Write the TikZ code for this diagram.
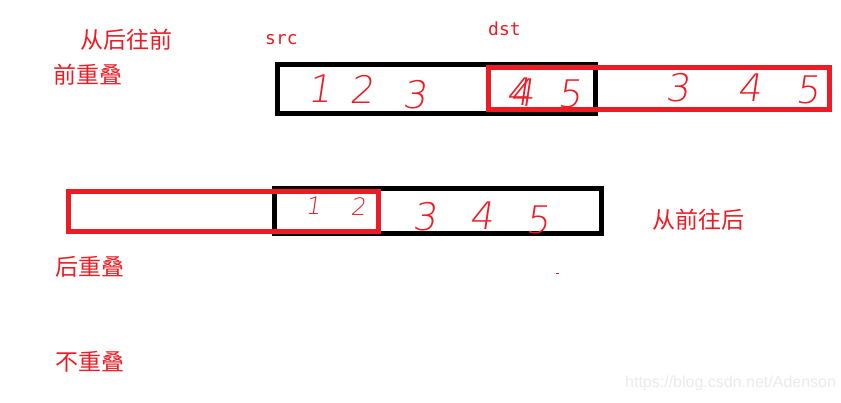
\documentclass[tikz,border=0pt]{standalone}
\usepackage{fontspec}
\newfontfamily\cjk{Noto Sans CJK SC}
\newfontfamily\handfont[FakeSlant=0.15]{DejaVu Sans ExtraLight}
\newfontfamily\monofont{DejaVu Sans Mono}
\newfontfamily\wmfont{Liberation Sans}
\definecolor{paintred}{RGB}{237,28,36}
\begin{document}
\begin{tikzpicture}[x=1pt,y=-1pt,
	hz/.style={text=paintred,font=\cjk\fontsize{23}{23}\selectfont,inner sep=0pt,anchor=west},
	lbl/.style={text=paintred,font=\monofont\fontsize{18}{18}\selectfont,inner sep=0pt,anchor=west},
	num/.style={text=paintred,font=\handfont\fontsize{38}{38}\selectfont,inner sep=0pt},
	small/.style={num,font=\handfont\fontsize{24}{24}\selectfont},
	blackbox/.style={draw=black,line width=4.6pt},
	redbox/.style={draw=paintred,line width=4.8pt}]
	\fill[white] (0,0) rectangle (841,402);
	\useasboundingbox (0,0) rectangle (841,402);
	% labels
	\node[hz] (backfront) at (80,40) {从后往前};
	\node[hz] (frontov) at (53,75) {前重叠};
	\node[hz] (frontback) at (652,220) {从前往后};
	\node[hz] (backov) at (55,267) {后重叠};
	\node[hz] (noov) at (55,362) {不重叠};
	\node[lbl] (src) at (265,40) {src};
	\node[lbl] (dst) at (488,29) {dst};
	% top row: dst after src
	\draw[blackbox] (277.5,64.5) rectangle (595.5,113.5);
	\draw[redbox] (488.5,67.5) rectangle (829.5,109.5);
	\node[num] (a1) at (320,89) {1};
	\node[num] (a2) at (362,89) {2};
	\node[num] (a3) at (415,95) {3};
	\node[num] (a4) at (519,92) {4};
	\node[num] (a4b) at (523,93) {4};
	\node[num] (a5) at (570,94) {5};
	\node[num] (b3) at (678,88) {3};
	\node[num] (b4) at (750,88) {4};
	\node[num] (b5) at (808,90) {5};
	% bottom row: dst before src
	\draw[blackbox] (274.5,188.5) rectangle (601.5,233.5);
	\draw[redbox] (68.5,191.5) rectangle (378.5,231.5);
	\node[small] (c1) at (313,206) {1};
	\node[small] (c2) at (358,207) {2};
	\node[num] (c3) at (425,217) {3};
	\node[num] (c4) at (482,216) {4};
	\node[num] (c5) at (538,220) {5};
	\draw[paintred,line width=0.8pt] (556,273)--(559,273);
	% watermark
	\node[text=black!8,font=\wmfont\fontsize{16}{16}\selectfont,inner sep=0pt,anchor=west] (wm) at (625,383) {https://blog.csdn.net/Adenson};
\end{tikzpicture}
\end{document}
